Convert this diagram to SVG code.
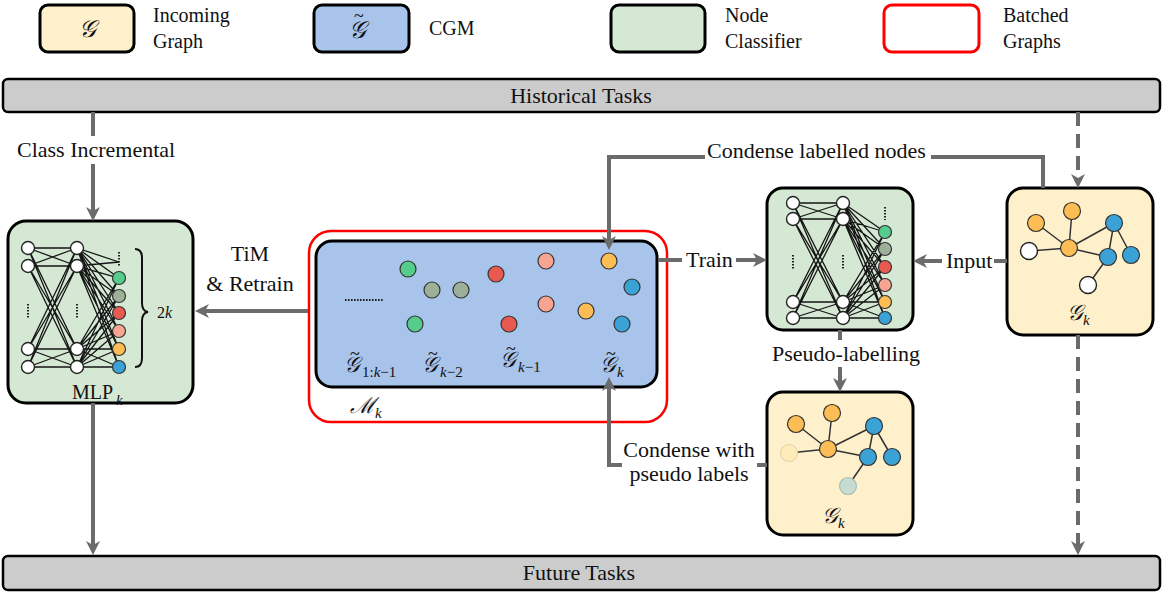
<svg xmlns="http://www.w3.org/2000/svg" width="1163" height="594" viewBox="0 0 1163 594">
<style>
.t{font-family:"Liberation Serif","Times New Roman",serif;font-size:22px;fill:#111}
.lg{font-size:20px}
.c{text-anchor:middle}
.it{font-style:italic}
.m{font-family:"Liberation Serif","DejaVu Serif",serif;font-style:italic;font-size:22px;fill:#111}
.sb{font-size:15px}
.tld{font-family:"Liberation Serif",serif;font-style:normal;font-size:18px}
.box{stroke:#000;stroke-width:3}
.yl{fill:#fff0cc}.bl{fill:#a9c4ea}.gr{fill:#d5e8d4}
.bar{fill:#cccccc;stroke:#000;stroke-width:2.5}
.conn{stroke:#6b6b6b;stroke-width:4;fill:none}
.dash{stroke-dasharray:14 8}
.net{stroke:#151515;stroke-width:1.3;fill:none}
.wn{fill:#fff;stroke:#222;stroke-width:1.4}
.nd{stroke:#333;stroke-width:1.2}
.dots{stroke:#222;stroke-width:2;stroke-dasharray:1.6 1.4;fill:none}
.e{stroke:#333;stroke-width:1.5}
.n1{fill:#56cc8c}.n2{fill:#9cb09a}.n3{fill:#e85a4f}.n4{fill:#f7a592}.n5{fill:#fcbd54}.n6{fill:#3ba2d6}
</style>
<defs>
<marker id="ah" viewBox="0 0 14 14" markerWidth="14" markerHeight="14" refX="4" refY="7" orient="auto" markerUnits="userSpaceOnUse">
<path d="M0,0 L14,7 L0,14 L4,7 z" fill="#6b6b6b"/>
</marker>
</defs>

<g id="legend">
<rect class="box yl" x="40" y="5" width="94" height="47" rx="8"/>
<text class="m" x="87" y="37" text-anchor="middle" style="font-size:24px">𝒢</text>
<text class="t lg" x="153" y="22">Incoming</text>
<text class="t lg" x="153" y="48">Graph</text>
<rect class="box bl" x="314" y="5" width="95" height="47" rx="8"/>
<text class="m" x="349" y="38" style="font-size:24px">𝒢<tspan class="tld" x="354" y="22">~</tspan></text>
<text class="t lg" x="429" y="35">CGM</text>
<rect class="box gr" x="611" y="5" width="94" height="47" rx="8"/>
<text class="t lg" x="725" y="22">Node</text>
<text class="t lg" x="725" y="48">Classifier</text>
<rect x="884" y="5" width="95" height="47" rx="8" fill="#fff" stroke="#ff0000" stroke-width="3"/>
<text class="t lg" x="1003" y="22">Batched</text>
<text class="t lg" x="1003" y="48">Graphs</text>
</g>

<g id="historical">
<rect class="bar" x="3" y="79" width="1157" height="33" rx="5"/>
<text class="t c" x="581" y="103">Historical Tasks</text>
</g>

<g id="future">
<rect class="bar" x="3" y="556" width="1157" height="34" rx="5"/>
<text class="t c" x="579" y="580">Future Tasks</text>
</g>

<g id="mlp">
<rect class="box gr" x="8" y="221" width="185" height="182" rx="18"/>
<path class="net" d="M28 248L77 248M28 248L77 266M28 248L77 349M28 248L77 367M28 266L77 248M28 266L77 266M28 266L77 349M28 266L77 367M28 349L77 248M28 349L77 266M28 349L77 349M28 349L77 367M28 367L77 248M28 367L77 266M28 367L77 349M28 367L77 367"/>
<path class="net" d="M77 248L119 278M77 248L119 296M77 248L119 313M77 248L119 331M77 248L119 349M77 248L119 367M77 266L119 278M77 266L119 296M77 266L119 313M77 266L119 331M77 266L119 349M77 266L119 367M77 349L119 278M77 349L119 296M77 349L119 313M77 349L119 331M77 349L119 349M77 349L119 367M77 367L119 278M77 367L119 296M77 367L119 313M77 367L119 331M77 367L119 349M77 367L119 367M77 248L119 262M77 266L119 262"/>
<circle class="wn" cx="28" cy="248" r="6.5"/><circle class="wn" cx="28" cy="266" r="6.5"/><circle class="wn" cx="28" cy="349" r="6.5"/><circle class="wn" cx="28" cy="367" r="6.5"/>
<circle class="wn" cx="77" cy="248" r="6.5"/><circle class="wn" cx="77" cy="266" r="6.5"/><circle class="wn" cx="77" cy="349" r="6.5"/><circle class="wn" cx="77" cy="367" r="6.5"/>
<circle class="nd n1" cx="119" cy="278" r="6.5"/><circle class="nd n2" cx="119" cy="296" r="6.5"/><circle class="nd n3" cx="119" cy="313" r="6.5"/><circle class="nd n4" cx="119" cy="331" r="6.5"/><circle class="nd n5" cx="119" cy="349" r="6.5"/><circle class="nd n6" cx="119" cy="367" r="6.5"/>
<path class="dots" d="M28 304V319M77 304V319M119 252V266"/>
<path d="M135,249 Q142,249 142,258 L142,303 Q142,311 148,312 Q142,313 142,321 L142,358 Q142,367 135,367" fill="none" stroke="#111" stroke-width="2"/>
<text class="t" x="157" y="318" style="font-size:16px">2<tspan class="it">k</tspan></text>
<text class="t" x="72" y="399" style="font-size:20px">MLP</text>
<text class="m sb" x="116" y="405">k</text>
</g>

<g id="cgm">
<rect x="309" y="231" width="358" height="191" rx="22" fill="#fff" stroke="#ff0000" stroke-width="2.5"/>
<rect class="box bl" x="316" y="241" width="341" height="146" rx="16"/>
<path d="M345,300 H383" stroke="#222" stroke-width="2" stroke-dasharray="1.6 1.4"/>
<circle class="nd n1" cx="408" cy="269" r="8"/>
<circle class="nd n2" cx="432" cy="290" r="8"/>
<circle class="nd n2" cx="461" cy="290" r="8"/>
<circle class="nd n1" cx="415" cy="324" r="8"/>
<circle class="nd n3" cx="496" cy="274" r="8"/>
<circle class="nd n3" cx="509" cy="324" r="8"/>
<circle class="nd n4" cx="546" cy="261" r="8"/>
<circle class="nd n4" cx="546" cy="304" r="8"/>
<circle class="nd n5" cx="609" cy="261" r="8"/>
<circle class="nd n5" cx="586" cy="311" r="8"/>
<circle class="nd n6" cx="632" cy="287" r="8"/>
<circle class="nd n6" cx="622" cy="324" r="8"/>
<text class="m" x="344" y="372">𝒢<tspan class="tld" x="350" y="360">~</tspan><tspan class="sb" x="362" y="377" style="font-style:normal">1:<tspan class="it">k</tspan>−1</tspan></text>
<text class="m" x="422" y="372">𝒢<tspan class="tld" x="428" y="360">~</tspan><tspan class="sb" x="440" y="377" style="font-style:normal"><tspan class="it">k</tspan>−2</tspan></text>
<text class="m" x="500" y="367">𝒢<tspan class="tld" x="506" y="355">~</tspan><tspan class="sb" x="518" y="372" style="font-style:normal"><tspan class="it">k</tspan>−1</tspan></text>
<text class="m" x="600" y="372">𝒢<tspan class="tld" x="606" y="360">~</tspan><tspan class="sb" x="617" y="377">k</tspan></text>
<text class="m" x="350" y="413">ℳ<tspan class="sb" dy="5">k</tspan></text>
</g>

<g id="classifier">
<rect class="box gr" x="767" y="188" width="146" height="142" rx="16"/>
<path class="net" d="M793 203L843 203M793 203L843 219M793 203L843 302M793 203L843 318M793 219L843 203M793 219L843 219M793 219L843 302M793 219L843 318M793 302L843 203M793 302L843 219M793 302L843 302M793 302L843 318M793 318L843 203M793 318L843 219M793 318L843 302M793 318L843 318"/>
<path class="net" d="M843 203L885 232M843 203L885 249M843 203L885 267M843 203L885 285M843 203L885 302M843 203L885 318M843 219L885 232M843 219L885 249M843 219L885 267M843 219L885 285M843 219L885 302M843 219L885 318M843 302L885 232M843 302L885 249M843 302L885 267M843 302L885 285M843 302L885 302M843 302L885 318M843 318L885 232M843 318L885 249M843 318L885 267M843 318L885 285M843 318L885 302M843 318L885 318"/>
<circle class="wn" cx="793" cy="203" r="6.5"/><circle class="wn" cx="793" cy="219" r="6.5"/><circle class="wn" cx="793" cy="302" r="6.5"/><circle class="wn" cx="793" cy="318" r="6.5"/>
<circle class="wn" cx="843" cy="203" r="6.5"/><circle class="wn" cx="843" cy="219" r="6.5"/><circle class="wn" cx="843" cy="302" r="6.5"/><circle class="wn" cx="843" cy="318" r="6.5"/>
<circle class="nd n1" cx="885" cy="232" r="6.5"/><circle class="nd n2" cx="885" cy="249" r="6.5"/><circle class="nd n3" cx="885" cy="267" r="6.5"/><circle class="nd n4" cx="885" cy="285" r="6.5"/><circle class="nd n5" cx="885" cy="302" r="6.5"/><circle class="nd n6" cx="885" cy="318" r="6.5"/>
<path class="dots" d="M793 255V269M843 255V269M885 207V220"/>
</g>

<g id="incoming-graph">
<rect class="box yl" x="1007" y="188" width="146" height="147" rx="16"/>
<path class="e" d="M1069,248 L1036,223 M1069,248 L1072,211 M1069,248 L1029,251 M1069,248 L1114,223 M1069,248 L1108,257 M1114,223 L1108,257 M1114,223 L1131,255 M1108,257 L1088,285"/>
<circle class="nd n5" cx="1036" cy="223" r="8.5"/>
<circle class="nd n5" cx="1072" cy="211" r="8.5"/>
<circle class="wn" cx="1029" cy="251" r="8.5"/>
<circle class="nd n5" cx="1069" cy="248" r="8.5"/>
<circle class="nd n6" cx="1114" cy="223" r="8.5"/>
<circle class="nd n6" cx="1108" cy="257" r="8.5"/>
<circle class="nd n6" cx="1131" cy="255" r="8.5"/>
<circle class="wn" cx="1088" cy="285" r="8.5"/>
<text class="m" x="1067" y="320">𝒢<tspan class="sb" dy="5">k</tspan></text>
</g>

<g id="pseudo-graph">
<rect class="box yl" x="767" y="392" width="146" height="143" rx="16"/>
<path class="e" d="M828,449 L796,424 M828,449 L832,413 M828,449 L789,453 M828,449 L874,426 M828,449 L868,457 M874,426 L868,457 M874,426 L892,457 M868,457 L848,486"/>
<circle class="nd n5" cx="796" cy="424" r="8.5"/>
<circle class="nd n5" cx="832" cy="413" r="8.5"/>
<circle cx="789" cy="453" r="8.5" fill="#fdecb8" stroke="#e6d6a8" stroke-width="1.2"/>
<circle class="nd n5" cx="828" cy="449" r="8.5"/>
<circle class="nd n6" cx="874" cy="426" r="8.5"/>
<circle class="nd n6" cx="868" cy="457" r="8.5"/>
<circle class="nd n6" cx="892" cy="457" r="8.5"/>
<circle cx="848" cy="486" r="8.5" fill="#c6dbd2" stroke="#a9bdb5" stroke-width="1.2"/>
<text class="m" x="822" y="523">𝒢<tspan class="sb" dy="5">k</tspan></text>
</g>

<g id="connectors">
<path class="conn" d="M93,112 L93,136"/>
<path class="conn" d="M93,164 L93,211" marker-end="url(#ah)"/>
<path class="conn" d="M93,403 L93,545" marker-end="url(#ah)"/>
<path class="conn" d="M308,311 L205,311" marker-end="url(#ah)"/>
<path class="conn" d="M658,260 L682,260"/>
<path class="conn" d="M736,260 L757,260" marker-end="url(#ah)"/>
<path class="conn" d="M1007,261 L994,261"/>
<path class="conn" d="M942,261 L923,261" marker-end="url(#ah)"/>
<path class="conn" d="M1043,188 L1043,157 L931,157"/>
<path class="conn" d="M705,157 L609,157 L609,240" marker-end="url(#ah)"/>
<path class="conn" d="M767,465 L757,465"/>
<path class="conn" d="M622,465 L609,465 L609,387" marker-end="url(#ah)"/>
<path class="conn" d="M840,330 L840,340"/>
<path class="conn" d="M840,367 L840,382" marker-end="url(#ah)"/>
<path class="conn dash" d="M1078,112 L1078,178" marker-end="url(#ah)"/>
<path class="conn dash" d="M1078,335 L1078,545" marker-end="url(#ah)"/>
<text class="t" x="17" y="157">Class Incremental</text>
<text class="t c" x="250" y="261">TiM</text>
<text class="t c" x="250" y="291">&amp; Retrain</text>
<text class="t" x="686" y="267">Train</text>
<text class="t" x="946" y="268">Input</text>
<text class="t" x="707" y="158">Condense labelled nodes</text>
<text class="t c" x="846" y="361">Pseudo-labelling</text>
<text class="t c" x="689" y="457">Condense with</text>
<text class="t c" x="689" y="481">pseudo labels</text>
</g>
</svg>
